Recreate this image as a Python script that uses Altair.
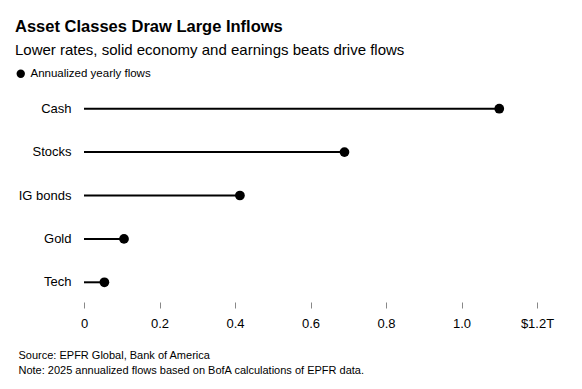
import altair as alt
import pandas as pd

categories = ["Cash", "Stocks", "IG bonds", "Gold", "Tech"]
values = [1.10, 0.69, 0.413, 0.106, 0.054]
x_ticks = [0, 0.2, 0.4, 0.6, 0.8, 1.0, 1.2]
series_name = "Annualized yearly flows"
title_text = "Asset Classes Draw Large Inflows"
subtitle_text = "Lower rates, solid economy and earnings beats drive flows"
footer_lines = ["Source: EPFR Global, Bank of America",
                "Note: 2025 annualized flows based on BofA calculations of EPFR data."]

FONT = "Liberation Sans"

df = pd.DataFrame({
    "asset": categories,
    "flow": values,
    "zero": [0] * len(values),
    "series": [series_name] * len(values),
})

y_enc = alt.Y(
    "asset:N", sort=categories, title=None,
    scale=alt.Scale(paddingInner=0, paddingOuter=0),
    axis=alt.Axis(ticks=False, domain=False, labelPadding=13, labelFontSize=13,
                  labelColor="#000", labelFont=FONT, grid=False),
)

x_axis = alt.Axis(
    values=x_ticks, grid=False, domain=False, tickSize=6, tickColor="#888",
    tickWidth=1, offset=-2, labelPadding=9, labelFontSize=13, labelColor="#000",
    labelFont=FONT, labelFlush=False, labelOverlap=False,
    labelExpr="datum.value == 0 ? '0' : (datum.value >= 1.19 ? '$1.2T' : format(datum.value, '.1f'))",
    title=footer_lines, titleFont=FONT, titleFontSize=11, titleFontWeight="normal",
    titleColor="#000", titleAlign="left", titleAnchor="start", titleX=-66, titleY=47,
    titleBaseline="top", titleLineHeight=15,
)

rules = alt.Chart(df).mark_rule(color="#000", strokeWidth=2).encode(
    x=alt.X("zero:Q", scale=alt.Scale(domain=[0, 1.2], nice=False), axis=x_axis),
    x2="flow:Q",
    y=y_enc,
)

dots = alt.Chart(df).mark_circle(size=95, opacity=1).encode(
    x=alt.X("flow:Q"),
    y=alt.Y("asset:N", sort=categories),
    color=alt.Color(
        "series:N",
        scale=alt.Scale(domain=[series_name], range=["#000"]),
        legend=alt.Legend(title=None, orient="none", legendX=-69, legendY=-19,
                          labelFont=FONT, labelFontSize=11.5, labelColor="#000",
                          symbolSize=70, symbolType="circle", labelOffset=4),
    ),
)

chart = alt.layer(rules, dots).properties(
    width=453, height=217,
    padding={"left": 7, "top": 10, "right": 10, "bottom": 5},
    title=alt.TitleParams(
        text=title_text, subtitle=subtitle_text, anchor="start", frame="bounds",
        font=FONT, fontSize=16.5, fontWeight="bold", color="#000",
        subtitleFont=FONT, subtitleFontSize=15, subtitleColor="#000",
        subtitlePadding=8, offset=10,
    ),
).configure_view(stroke=None)

chart.save("out.html", embed_options={"renderer": "svg", "actions": False})
